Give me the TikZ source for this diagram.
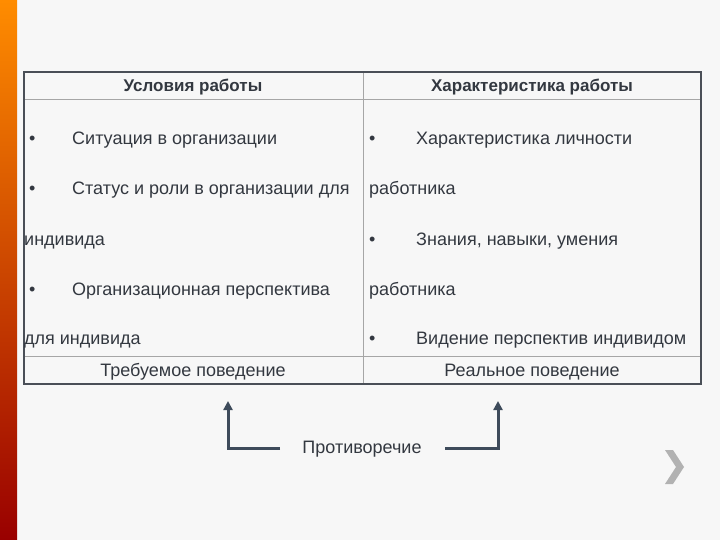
\documentclass[tikz,border=0pt]{standalone}
\usepackage{fontspec}
\setmainfont{Liberation Sans}
\usetikzlibrary{arrows.meta}
\definecolor{txt}{HTML}{333840}
\definecolor{frame}{HTML}{4A4F57}
\definecolor{arr}{HTML}{3E4B5B}
\begin{document}
\begin{tikzpicture}[x=1pt,y=-1pt,
  cell/.style={font=\fontsize{18}{20}\selectfont,text=txt,inner sep=0pt,anchor=base west},
  head/.style={font=\fontsize{17}{19}\selectfont\bfseries,text=txt,inner sep=0pt},
  ctr/.style={font=\fontsize{18}{20}\selectfont,text=txt,inner sep=0pt},
  conn/.style={draw=arr,line width=3pt,-{Triangle[length=9pt,width=9pt]}}]
\useasboundingbox (0,0) rectangle (720,540);
\fill[white!94!gray] (0,0) rectangle (720,540);
\shade[top color=orange!90!yellow,bottom color=red!60!black] (0,0) rectangle (17,540);
% table
\draw[gray!70,line width=1pt] (24,100) -- (701,100);
\draw[gray!70,line width=1pt] (24,356) -- (701,356);
\draw[gray!70,line width=1pt] (363,72) -- (363,384);
\draw[frame,line width=2pt] (24,72) rectangle (701,384);
\node[head] (h1) at (193,87) {Условия работы};
\node[head] (h2) at (532,87) {Характеристика работы};
\node[cell] (b1) at (29,145) {•};
\node[cell] (l1) at (72,145) {Ситуация в организации};
\node[cell] (b2) at (29,195) {•};
\node[cell] (l2) at (72,195) {Статус и роли в организации для};
\node[cell] (l3) at (24,245) {индивида};
\node[cell] (b4) at (29,295) {•};
\node[cell] (l4) at (72,295) {Организационная перспектива};
\node[cell] (l5) at (24,344) {для индивида};
\node[cell] (rb1) at (369,145) {•};
\node[cell] (r1) at (416,145) {Характеристика личности};
\node[cell] (r2) at (369,195) {работника};
\node[cell] (rb3) at (369,245) {•};
\node[cell] (r3) at (416,245) {Знания, навыки, умения};
\node[cell] (r4) at (369,295) {работника};
\node[cell] (rb5) at (369,344) {•};
\node[cell] (r5) at (416,344) {Видение перспектив индивидом};
\node[ctr] (f1) at (193,372) {Требуемое поведение};
\node[ctr] (f2) at (532,372) {Реальное поведение};
% contradiction
\node[ctr] (c) at (362,449) {Противоречие};
\coordinate (a1) at (280,448); \coordinate (a2) at (228,448); \coordinate (a3) at (228,401);
\coordinate (b1e) at (445,448); \coordinate (b2e) at (498,448); \coordinate (b3e) at (498,401);
\draw[conn] (a1) -- (a2) -- (a3);
\draw[conn] (b1e) -- (b2e) -- (b3e);
% chevron
\fill[gray!60] (665,450) -- (673,450) -- (684,467) -- (673,484) -- (665,484) -- (676,467) -- cycle;
\end{tikzpicture}
\end{document}
